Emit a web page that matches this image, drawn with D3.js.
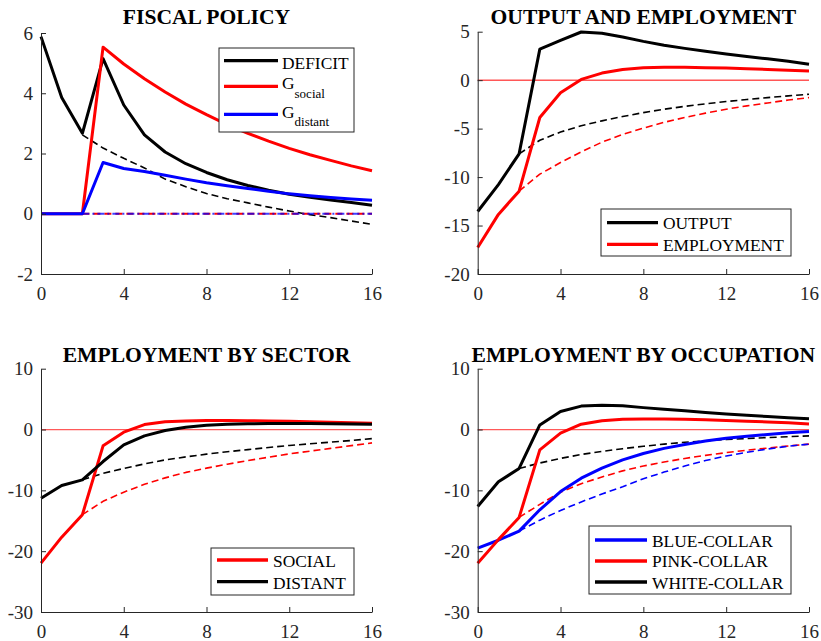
<!DOCTYPE html>
<html><head><meta charset="utf-8">
<script src="https://cdn.jsdelivr.net/npm/d3@7"></script>
<style>body{margin:0;background:#fff}svg{display:block}
.tick text{font-family:'Liberation Serif','Times New Roman',serif;font-size:19px}</style>
</head><body>
<svg id="c" width="821" height="641"></svg>
<script>
// ---------- data ----------
const quarters   = [0,1,2,3,4,5,6,7,8,9,10,11,12,13,14,15,16];
const cfQuarters = [2,3,4,5,6,7,8,9,10,11,12,13,14,15,16];
const xTicks = [0,4,8,12,16];
const fiscalTicks = [-2,0,2,4,6];
const outputTicks = [-20,-15,-10,-5,0,5];
const sectorTicks = [-30,-20,-10,0,10];
const occupationTicks = [-30,-20,-10,0,10];

// Fiscal policy
const deficit  = [5.88,3.86,2.67,5.15,3.61,2.62,2.05,1.66,1.37,1.13,0.94,0.78,0.65,0.55,0.46,0.37,0.28];
const gSocial  = [0,0,0,5.53,4.97,4.48,4.04,3.64,3.29,2.96,2.67,2.41,2.17,1.96,1.77,1.59,1.43];
const gDistant = [0,0,0,1.70,1.50,1.40,1.28,1.15,1.03,0.93,0.84,0.75,0.66,0.60,0.54,0.49,0.45];
const deficitNoPolicy = [2.62,2.18,1.84,1.52,1.15,0.9,0.67,0.5,0.36,0.22,0.09,-0.03,-0.13,-0.24,-0.35];
const gNoPolicy = [0,0,0,0,0,0,0,0,0,0,0,0,0,0,0];

// Output and employment
const output     = [-13.55,-10.77,-7.6,3.2,4.1,4.97,4.85,4.45,4.0,3.6,3.28,2.98,2.7,2.45,2.2,1.95,1.65];
const employment = [-17.26,-13.85,-11.45,-3.85,-1.3,0.08,0.73,1.1,1.27,1.32,1.32,1.29,1.25,1.18,1.1,1.02,0.95];
const outputNoPolicy     = [-7.6,-6.2,-5.35,-4.7,-4.2,-3.75,-3.35,-3.0,-2.7,-2.45,-2.2,-2.0,-1.8,-1.62,-1.45];
const employmentNoPolicy = [-11.45,-9.7,-8.5,-7.4,-6.4,-5.6,-4.95,-4.35,-3.85,-3.4,-3.0,-2.65,-2.35,-2.05,-1.8];

// Employment by sector
const social  = [-21.97,-17.7,-14.0,-2.68,-0.44,0.82,1.26,1.42,1.48,1.48,1.44,1.4,1.35,1.28,1.2,1.12,1.05];
const distant = [-11.29,-9.2,-8.27,-5.26,-2.52,-1.04,-0.16,0.38,0.71,0.88,0.95,0.99,1.0,0.99,0.96,0.92,0.88];
const socialNoPolicy  = [-14.0,-11.8,-10.3,-9.0,-7.95,-7.05,-6.35,-5.7,-5.1,-4.55,-4.0,-3.55,-3.1,-2.65,-2.2];
const distantNoPolicy = [-8.27,-7.2,-6.4,-5.65,-5.0,-4.5,-4.05,-3.65,-3.3,-2.95,-2.62,-2.35,-2.07,-1.8,-1.5];

// Employment by occupation
const blueCollar  = [-19.5,-18.2,-16.7,-13.2,-10.2,-8.0,-6.35,-5.0,-3.95,-3.1,-2.45,-1.9,-1.45,-1.1,-0.8,-0.55,-0.33];
const pinkCollar  = [-21.97,-18.1,-14.45,-3.35,-0.6,0.88,1.45,1.68,1.74,1.73,1.68,1.6,1.5,1.38,1.25,1.1,0.92];
const whiteCollar = [-12.66,-8.6,-6.4,0.75,2.96,3.85,4.0,3.9,3.6,3.35,3.07,2.8,2.55,2.33,2.13,1.94,1.76];
const blueNoPolicy  = [-16.7,-14.9,-13.3,-11.9,-10.6,-9.4,-8.1,-7.0,-6.0,-5.1,-4.35,-3.75,-3.2,-2.75,-2.4];
const pinkNoPolicy  = [-14.45,-12.3,-10.3,-8.9,-7.8,-6.8,-6.0,-5.35,-4.75,-4.25,-3.8,-3.4,-3.05,-2.7,-2.4];
const whiteNoPolicy = [-6.4,-5.5,-4.75,-4.1,-3.6,-3.15,-2.75,-2.4,-2.1,-1.85,-1.65,-1.47,-1.32,-1.18,-1.05];

// ---------- drawing ----------
const svg = d3.select("#c");
const FONT = "'Liberation Serif','Times New Roman',serif";
const AX = "#262626";
const RED = "#ff0000", BLUE = "#0000ff", BLACK = "#000000";

function drawPanel(p) {
  const x = d3.scaleLinear().domain([0,16]).range(p.xr);
  const y = d3.scaleLinear().domain(p.yd).range(p.yr);
  const g = svg.append("g");

  g.append("text").attr("x", (p.xr[0]+p.xr[1])/2).attr("y", p.titleY)
    .attr("text-anchor","middle").style("font-family",FONT).style("font-weight","bold")
    .style("font-size","21.6px").attr("fill","#000").text(p.title);

  if (p.zero) {
    g.append("line").attr("x1",x(0)).attr("x2",x(16)).attr("y1",y(0)).attr("y2",y(0))
      .attr("stroke",RED).attr("stroke-width",p.zero.w).attr("stroke-opacity",p.zero.op);
  }

  const line = (xs) => d3.line().x((d,i)=>x(xs[i])).y(d=>y(d));
  p.series.forEach(s => {
    const xs = s.cf ? cfQuarters : quarters;
    g.append("path").datum(s.v).attr("d", line(xs))
      .attr("fill","none").attr("stroke",s.c)
      .attr("stroke-width", s.w)
      .attr("stroke-dasharray", s.dash || null)
      .attr("stroke-opacity", s.op || 1)
      .attr("stroke-linejoin","round");
  });

  const ya = d3.axisLeft(y).tickValues(p.yt).tickSizeInner(-5).tickSizeOuter(0).tickPadding(8).tickFormat(d3.format("d"));
  const xa = d3.axisBottom(x).tickValues(xTicks).tickSizeInner(-5).tickSizeOuter(0).tickPadding(13).tickFormat(d3.format("d"));
  const gy = g.append("g").attr("transform",`translate(${p.xr[0]},0)`).call(ya);
  const gx = g.append("g").attr("transform",`translate(0,${p.yr[0]})`).call(xa);
  [gx,gy].forEach(a => {
    a.attr("font-family",FONT).attr("font-size",19);
    a.select(".domain").attr("stroke",AX);
    a.selectAll(".tick line").attr("stroke",AX);
    a.selectAll(".tick text").attr("fill",AX).style("font-family",FONT).style("font-size","19px");
  });
  gy.selectAll(".tick text").text(d => d < 0 ? "-" + Math.abs(d) : d);

  const L = p.legend;
  g.append("rect").attr("x",L.x).attr("y",L.y).attr("width",L.w).attr("height",L.h)
    .attr("fill","#fff").attr("stroke",AX).attr("stroke-width",1);
  L.items.forEach(it => {
    g.append("line").attr("x1",L.lx1).attr("x2",L.lx2).attr("y1",it.ly).attr("y2",it.ly)
      .attr("stroke",it.c).attr("stroke-width",3.3);
    const t = g.append("text").attr("x",L.tx).attr("y",it.by).style("font-family",FONT)
      .style("font-size","17.4px").attr("fill","#000");
    t.append("tspan").text(it.label);
    if (it.sub) {
      t.append("tspan").style("font-size","13px").attr("dy",it.subDy).text(it.sub);
    }
  });
}

drawPanel({
  title:"FISCAL POLICY", titleY:24, xr:[41,372], yr:[274,33], yd:[-2,6], yt:fiscalTicks,
  series:[
    {v:deficitNoPolicy, cf:true, c:BLACK, w:1.6, dash:"7,4"},
    {v:gNoPolicy, cf:true, c:RED, w:1.8, dash:"7,4"},
    {v:gNoPolicy, cf:true, c:BLUE, w:1.8, dash:"7,3,2,3", op:0.75},
    {v:deficit, c:BLACK, w:3},
    {v:gSocial, c:RED, w:3},
    {v:gDistant, c:BLUE, w:3}
  ],
  legend:{x:219,y:48,w:135,h:84,lx1:224,lx2:278,tx:282,items:[
    {label:"DEFICIT", c:BLACK, ly:60.7, by:69},
    {label:"G", sub:"social", subDy:9, c:RED, ly:86.3, by:89},
    {label:"G", sub:"distant", subDy:8, c:BLUE, ly:114.3, by:118}
  ]}
});

drawPanel({
  title:"OUTPUT AND EMPLOYMENT", titleY:24, xr:[477.7,809], yr:[274,31.7], yd:[-20,5], yt:outputTicks,
  zero:{w:1,op:1},
  series:[
    {v:outputNoPolicy, cf:true, c:BLACK, w:1.6, dash:"7,4"},
    {v:employmentNoPolicy, cf:true, c:RED, w:1.6, dash:"7,4"},
    {v:output, c:BLACK, w:3},
    {v:employment, c:RED, w:3}
  ],
  legend:{x:601,y:209,w:190,h:47,lx1:607,lx2:658,tx:663,items:[
    {label:"OUTPUT", c:BLACK, ly:222.7, by:229.3},
    {label:"EMPLOYMENT", c:RED, ly:244.3, by:250.7}
  ]}
});

drawPanel({
  title:"EMPLOYMENT BY SECTOR", titleY:362, xr:[41,372], yr:[612,368.7], yd:[-30,10], yt:sectorTicks,
  zero:{w:1.2,op:0.65},
  series:[
    {v:distantNoPolicy, cf:true, c:BLACK, w:1.6, dash:"7,4"},
    {v:socialNoPolicy, cf:true, c:RED, w:1.6, dash:"7,4"},
    {v:social, c:RED, w:3},
    {v:distant, c:BLACK, w:3}
  ],
  legend:{x:211,y:548,w:143,h:47,lx1:217,lx2:268,tx:273,items:[
    {label:"SOCIAL", c:RED, ly:560, by:567.3},
    {label:"DISTANT", c:BLACK, ly:581.7, by:588.7}
  ]}
});

drawPanel({
  title:"EMPLOYMENT BY OCCUPATION", titleY:362, xr:[477.7,809], yr:[612,368.7], yd:[-30,10], yt:occupationTicks,
  zero:{w:1.2,op:0.65},
  series:[
    {v:whiteNoPolicy, cf:true, c:BLACK, w:1.6, dash:"7,4"},
    {v:pinkNoPolicy, cf:true, c:RED, w:1.6, dash:"7,4"},
    {v:blueNoPolicy, cf:true, c:BLUE, w:1.6, dash:"7,4"},
    {v:blueCollar, c:BLUE, w:3},
    {v:pinkCollar, c:RED, w:3},
    {v:whiteCollar, c:BLACK, w:3}
  ],
  legend:{x:589,y:526,w:202,h:68,lx1:595,lx2:647,tx:652,items:[
    {label:"BLUE-COLLAR", c:BLUE, ly:540, by:546.7},
    {label:"PINK-COLLAR", c:RED, ly:561, by:567.3},
    {label:"WHITE-COLLAR", c:BLACK, ly:582, by:588.7}
  ]}
});
</script>
</body></html>
